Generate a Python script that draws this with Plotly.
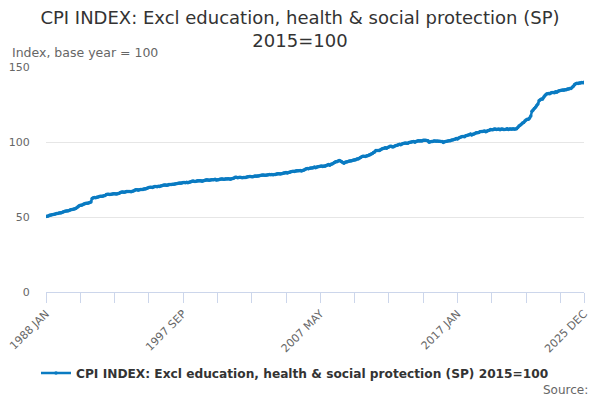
import plotly.graph_objects as go

# monthly CPI index values, one row per year (Jan..Dec)
years = list(range(1988, 2026))
months = ['JAN', 'FEB', 'MAR', 'APR', 'MAY', 'JUN', 'JUL', 'AUG', 'SEP', 'OCT', 'NOV', 'DEC']

v1988 = [50.3, 50.5, 50.7, 51.1, 51.3, 51.5, 51.6, 51.8, 52.0, 52.3, 52.4, 52.6]
v1989 = [52.6, 52.9, 53.1, 53.5, 53.8, 54.0, 54.0, 54.2, 54.5, 54.8, 55.0, 55.2]
v1990 = [55.4, 55.7, 56.1, 56.9, 57.5, 57.8, 57.9, 58.2, 58.6, 59.0, 59.1, 59.2]
v1991 = [59.3, 59.7, 60.0, 62.4, 62.8, 63.0, 62.9, 63.1, 63.4, 63.6, 63.8, 63.8]
v1992 = [63.8, 64.1, 64.4, 65.0, 65.2, 65.2, 65.0, 65.1, 65.3, 65.5, 65.5, 65.4]
v1993 = [65.3, 65.7, 65.9, 66.4, 66.7, 66.7, 66.5, 66.7, 67.0, 67.0, 67.0, 67.0]
v1994 = [66.9, 67.2, 67.4, 67.9, 68.1, 68.1, 67.9, 68.2, 68.3, 68.4, 68.4, 68.6]
v1995 = [68.7, 69.0, 69.3, 69.6, 69.8, 69.9, 69.7, 70.0, 70.3, 70.3, 70.2, 70.5]
v1996 = [70.4, 70.7, 70.9, 71.1, 71.3, 71.3, 71.1, 71.3, 71.6, 71.6, 71.6, 71.8]
v1997 = [71.8, 72.0, 72.2, 72.4, 72.5, 72.6, 72.5, 72.7, 73.0, 73.0, 72.9, 73.1]
v1998 = [72.9, 73.2, 73.4, 73.7, 74.0, 73.9, 73.7, 73.9, 74.1, 74.1, 74.1, 74.2]
v1999 = [73.9, 74.1, 74.3, 74.6, 74.8, 74.7, 74.5, 74.6, 74.9, 74.9, 74.9, 75.1]
v2000 = [74.6, 74.8, 74.9, 75.1, 75.4, 75.4, 75.2, 75.1, 75.5, 75.4, 75.5, 75.4]
v2001 = [75.2, 75.5, 75.7, 76.0, 76.5, 76.5, 76.2, 76.4, 76.5, 76.4, 76.2, 76.4]
v2002 = [76.3, 76.4, 76.6, 76.9, 77.0, 77.0, 76.8, 76.9, 77.2, 77.3, 77.2, 77.4]
v2003 = [77.3, 77.6, 77.8, 78.0, 78.0, 77.9, 77.8, 78.0, 78.2, 78.3, 78.2, 78.4]
v2004 = [78.1, 78.3, 78.4, 78.6, 78.9, 78.9, 78.7, 78.9, 79.0, 79.3, 79.4, 79.7]
v2005 = [79.3, 79.6, 79.9, 80.2, 80.4, 80.5, 80.4, 80.6, 80.9, 80.9, 80.8, 81.0]
v2006 = [80.7, 81.0, 81.2, 81.7, 82.1, 82.3, 82.1, 82.5, 82.6, 82.7, 82.9, 83.3]
v2007 = [82.9, 83.3, 83.5, 83.7, 83.9, 84.0, 83.6, 83.8, 83.9, 84.3, 84.6, 85.0]
v2008 = [84.5, 85.1, 85.3, 85.8, 86.4, 86.9, 86.8, 87.4, 87.6, 87.4, 86.9, 86.4]
v2009 = [85.9, 86.5, 86.7, 86.9, 87.2, 87.4, 87.3, 87.6, 87.8, 88.0, 88.2, 88.6]
v2010 = [88.6, 89.2, 89.6, 90.2, 90.5, 90.5, 90.3, 90.7, 90.9, 91.2, 91.5, 92.0]
v2011 = [92.3, 93.0, 93.3, 94.3, 94.4, 94.4, 94.3, 94.8, 95.4, 95.6, 95.8, 96.2]
v2012 = [95.8, 96.4, 96.7, 97.2, 97.1, 96.7, 96.8, 97.3, 97.6, 97.9, 98.1, 98.5]
v2013 = [98.1, 98.7, 99.0, 99.2, 99.4, 99.2, 99.1, 99.6, 99.9, 100.0, 100.1, 100.4]
v2014 = [99.9, 100.4, 100.6, 100.8, 100.7, 100.9, 100.7, 101.1, 101.1, 101.2, 101.0, 100.8]
v2015 = [99.9, 100.2, 100.3, 100.4, 100.6, 100.6, 100.5, 100.7, 100.5, 100.5, 100.4, 100.3]
v2016 = [99.7, 100.1, 100.4, 100.5, 100.7, 100.9, 100.9, 101.3, 101.4, 101.7, 101.9, 102.4]
v2017 = [102.0, 102.7, 103.0, 103.4, 103.6, 103.6, 103.5, 104.1, 104.4, 104.6, 104.9, 105.3]
v2018 = [104.6, 105.2, 105.4, 105.8, 106.2, 106.2, 106.3, 106.8, 107.0, 107.0, 107.2, 107.3]
v2019 = [106.8, 107.3, 107.6, 107.9, 108.3, 108.2, 108.2, 108.6, 108.7, 108.4, 108.5, 108.6]
v2020 = [108.2, 108.6, 108.6, 108.4, 108.4, 108.5, 108.9, 108.3, 108.6, 108.6, 108.5, 108.8]
v2021 = [108.5, 108.6, 108.9, 109.7, 110.6, 111.2, 111.8, 112.6, 113.0, 114.0, 114.6, 115.1]
v2022 = [115.2, 116.0, 117.3, 120.5, 121.3, 122.4, 123.2, 124.4, 125.3, 127.5, 128.2, 128.7]
v2023 = [128.6, 130.0, 131.0, 131.9, 132.2, 132.4, 132.1, 132.6, 133.0, 133.0, 132.9, 133.5]
v2024 = [133.2, 133.8, 134.1, 134.3, 134.5, 134.6, 134.5, 134.9, 134.9, 135.3, 135.3, 135.6]
v2025 = [135.6, 136.5, 137.2, 138.4, 138.8, 139.1, 139.0, 139.4, 139.4, 139.6, 139.5, 139.9]

rows = [v1988, v1989, v1990, v1991, v1992, v1993, v1994, v1995, v1996, v1997,
        v1998, v1999, v2000, v2001, v2002, v2003, v2004, v2005, v2006, v2007,
        v2008, v2009, v2010, v2011, v2012, v2013, v2014, v2015, v2016, v2017,
        v2018, v2019, v2020, v2021, v2022, v2023, v2024, v2025]

labels = [f"{y} {m}" for y in years for m in months]
values = [v for r in rows for v in r]

series_name = "CPI INDEX: Excl education, health & social protection (SP) 2015=100"

# tick every 29 months, label every 4th tick, plus the last month
tick_vals = labels[::29] + [labels[-1]]
tick_text = [lab if i % 4 == 0 else "" for i, lab in enumerate(labels[::29])] + [labels[-1]]

fig = go.Figure()
fig.add_trace(go.Scatter(
    x=labels, y=values, name=series_name,
    mode='lines+markers',
    line=dict(color='#0a7bc2', width=2.5),
    marker=dict(color='#0a7bc2', size=3.5),
))

# page body adds an 8px margin, so the figure is 592x392
fig.update_layout(
    width=592, height=392,
    margin=dict(l=38, r=16, t=59, b=108, autoexpand=False),
    paper_bgcolor='white', plot_bgcolor='white',
    font=dict(family='DejaVu Sans', color='#666666', size=11),
    showlegend=True,
    legend=dict(orientation='h', x=0.4628, xanchor='center', y=-0.36, yanchor='middle',
                itemwidth=30,
                font=dict(size=12.2, color='#333333', weight='bold')),
    title=dict(text="CPI INDEX: Excl education, health & social protection (SP)<br>2015=100",
               x=0.4932, xanchor='center', y=0.96, yanchor='middle',
               font=dict(size=18, color='#333333')),
)

fig.update_xaxes(
    type='category', range=[0, len(labels) - 1], automargin=False,
    tickmode='array', tickvals=tick_vals, ticktext=tick_text,
    tickangle=-45, ticks='outside', ticklen=10, tickcolor='#ccd6eb',
    showline=True, linecolor='#ccd6eb', linewidth=1,
    showgrid=False, tickfont=dict(size=11, color='#666666'),
)
# invisible ticks just push the labels away from the plot edge
fig.update_yaxes(
    range=[0, 150], tickvals=[0, 50, 100, 150], automargin=False,
    showgrid=True, gridcolor='#e6e6e6', zeroline=False,
    ticks='outside', ticklen=13, tickcolor='rgba(0,0,0,0)',
    tickfont=dict(size=11, color='#666666'),
)

fig.add_annotation(text="Index, base year = 100", xref='paper', yref='paper',
                   x=-0.0669, y=1.0636, xanchor='left', yanchor='middle', showarrow=False,
                   font=dict(size=12.5, color='#666666'))
fig.add_annotation(text="Source:", xref='paper', yref='paper',
                   x=1.0112, y=-0.4356, xanchor='right', yanchor='middle', showarrow=False,
                   font=dict(size=12, color='#666666'))

fig.write_html("out.html")
